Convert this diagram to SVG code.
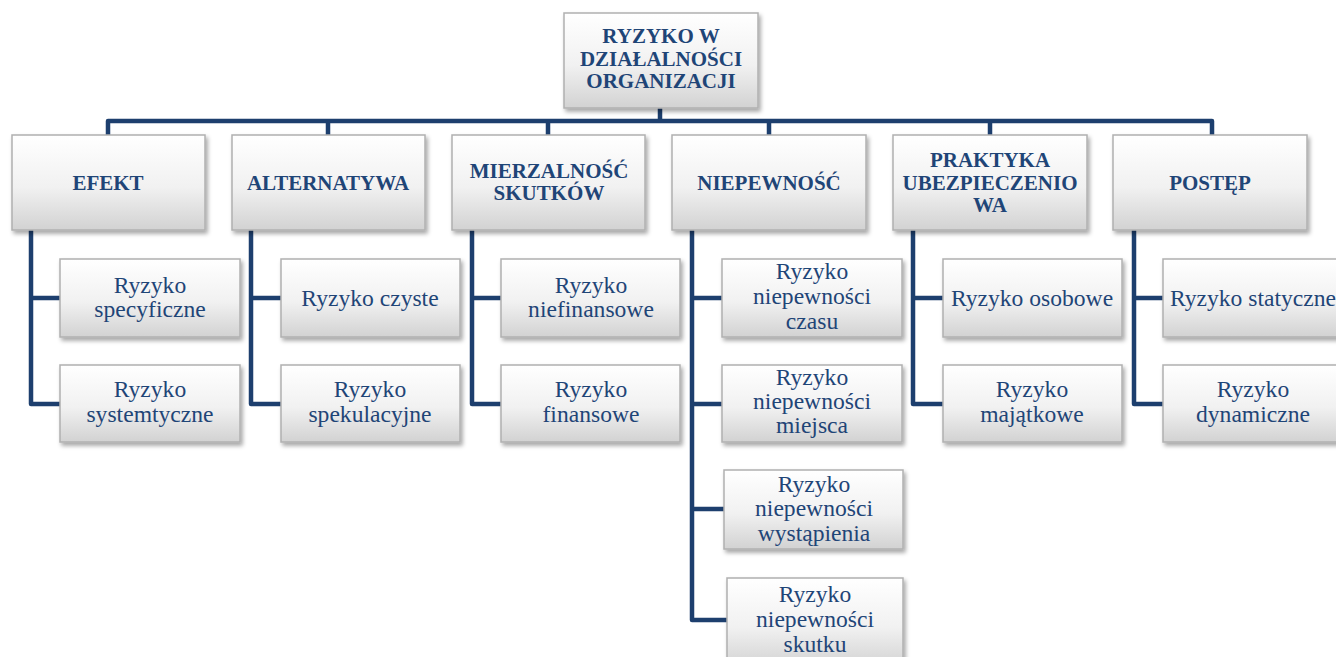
<svg xmlns="http://www.w3.org/2000/svg" width="1336" height="657" viewBox="0 0 1336 657">
<defs>
<linearGradient id="g" x1="0" y1="0" x2="0" y2="1">
<stop offset="0" stop-color="#ffffff"/>
<stop offset="0.55" stop-color="#f1f1f1"/>
<stop offset="1" stop-color="#d2d2d2"/>
</linearGradient>
<filter id="sh" x="-10%" y="-10%" width="125%" height="130%">
<feDropShadow dx="2" dy="3" stdDeviation="2" flood-color="#000" flood-opacity="0.35"/>
</filter>
</defs>
<style>
.box{fill:url(#g);stroke:#b0b0b0;stroke-width:1.5;filter:url(#sh)}
.h{font-family:"Liberation Serif","Times New Roman",serif;font-weight:bold;font-size:21px;fill:#1f4577;text-anchor:middle}
.c{font-family:"Liberation Serif","Times New Roman",serif;font-size:23.6px;fill:#1f4577;text-anchor:middle}
.ln{fill:none;stroke:#1d3f6e;stroke-width:4.5;stroke-linejoin:round}
</style>
<rect width="1336" height="657" fill="#ffffff"/>
<g id="connectors">
<path class="ln" d="M660 108V121M108 135V121H1212V135M328 121V135M548 121V135M769 121V135M990 121V135"/>
<path class="ln" d="M60 298H31V230M31 298V404H60"/>
<path class="ln" d="M281 298H251V230M251 298V404H281"/>
<path class="ln" d="M501 298H472V230M472 298V404H501"/>
<path class="ln" d="M722 298H692V230M692 298V620H727M692 404H722M692 509H724"/>
<path class="ln" d="M943 298H913V230M913 298V404H943"/>
<path class="ln" d="M1163 298H1134V230M1134 298V404H1163"/>
</g>
<g id="root"><rect class="box" x="564" y="13" width="194" height="95"/>
<text class="h" x="661" y="43">RYZYKO W</text><text class="h" x="661" y="66">DZIAŁALNOŚCI</text><text class="h" x="661" y="88">ORGANIZACJI</text></g>
<g id="efekt"><rect class="box" x="12" y="135" width="193" height="95"/><text class="h" x="108" y="190">EFEKT</text></g>
<g id="alternatywa"><rect class="box" x="232" y="135" width="193" height="95"/><text class="h" x="328" y="190">ALTERNATYWA</text></g>
<g id="mierzalnosc"><rect class="box" x="452" y="135" width="193" height="95"/><text class="h" x="549" y="178">MIERZALNOŚĆ</text><text class="h" x="549" y="200">SKUTKÓW</text></g>
<g id="niepewnosc"><rect class="box" x="672" y="135" width="194" height="95"/><text class="h" x="769" y="190">NIEPEWNOŚĆ</text></g>
<g id="praktyka"><rect class="box" x="893" y="135" width="194" height="95"/><text class="h" x="990" y="167">PRAKTYKA</text><text class="h" x="990" y="190">UBEZPIECZENIO</text><text class="h" x="990" y="212">WA</text></g>
<g id="postep"><rect class="box" x="1113" y="135" width="194" height="95"/><text class="h" x="1210" y="190">POSTĘP</text></g>

<g id="specyficzne"><rect class="box" x="60" y="259" width="180" height="78"/><text class="c" x="150" y="293">Ryzyko</text><text class="c" x="150" y="317">specyficzne</text></g>
<g id="systemtyczne"><rect class="box" x="60" y="365" width="180" height="77"/><text class="c" x="150" y="397">Ryzyko</text><text class="c" x="150" y="422">systemtyczne</text></g>
<g id="czyste"><rect class="box" x="281" y="259" width="179" height="78"/><text class="c" x="370" y="306">Ryzyko czyste</text></g>
<g id="spekulacyjne"><rect class="box" x="281" y="365" width="179" height="77"/><text class="c" x="370" y="397">Ryzyko</text><text class="c" x="370" y="422">spekulacyjne</text></g>
<g id="niefinansowe"><rect class="box" x="501" y="259" width="179" height="78"/><text class="c" x="591" y="293">Ryzyko</text><text class="c" x="591" y="317">niefinansowe</text></g>
<g id="finansowe"><rect class="box" x="501" y="365" width="179" height="77"/><text class="c" x="591" y="397">Ryzyko</text><text class="c" x="591" y="422">finansowe</text></g>
<g id="czasu"><rect class="box" x="722" y="259" width="180" height="78"/><text class="c" x="812" y="279">Ryzyko</text><text class="c" x="812" y="304">niepewności</text><text class="c" x="812" y="329">czasu</text></g>
<g id="miejsca"><rect class="box" x="722" y="365" width="180" height="77"/><text class="c" x="812" y="385">Ryzyko</text><text class="c" x="812" y="409">niepewności</text><text class="c" x="812" y="433">miejsca</text></g>
<g id="wystapienia"><rect class="box" x="724" y="470" width="179" height="79"/><text class="c" x="814" y="492">Ryzyko</text><text class="c" x="814" y="516">niepewności</text><text class="c" x="814" y="541">wystąpienia</text></g>
<g id="skutku"><rect class="box" x="727" y="578" width="176" height="90"/><text class="c" x="815" y="602">Ryzyko</text><text class="c" x="815" y="627">niepewności</text><text class="c" x="815" y="652">skutku</text></g>
<g id="osobowe"><rect class="box" x="943" y="259" width="179" height="78"/><text class="c" x="1032" y="306">Ryzyko osobowe</text></g>
<g id="majatkowe"><rect class="box" x="943" y="365" width="179" height="77"/><text class="c" x="1032" y="397">Ryzyko</text><text class="c" x="1032" y="422">majątkowe</text></g>
<g id="statyczne"><rect class="box" x="1163" y="259" width="180" height="78"/><text class="c" x="1253" y="306">Ryzyko statyczne</text></g>
<g id="dynamiczne"><rect class="box" x="1163" y="365" width="180" height="77"/><text class="c" x="1253" y="397">Ryzyko</text><text class="c" x="1253" y="422">dynamiczne</text></g>
</svg>
